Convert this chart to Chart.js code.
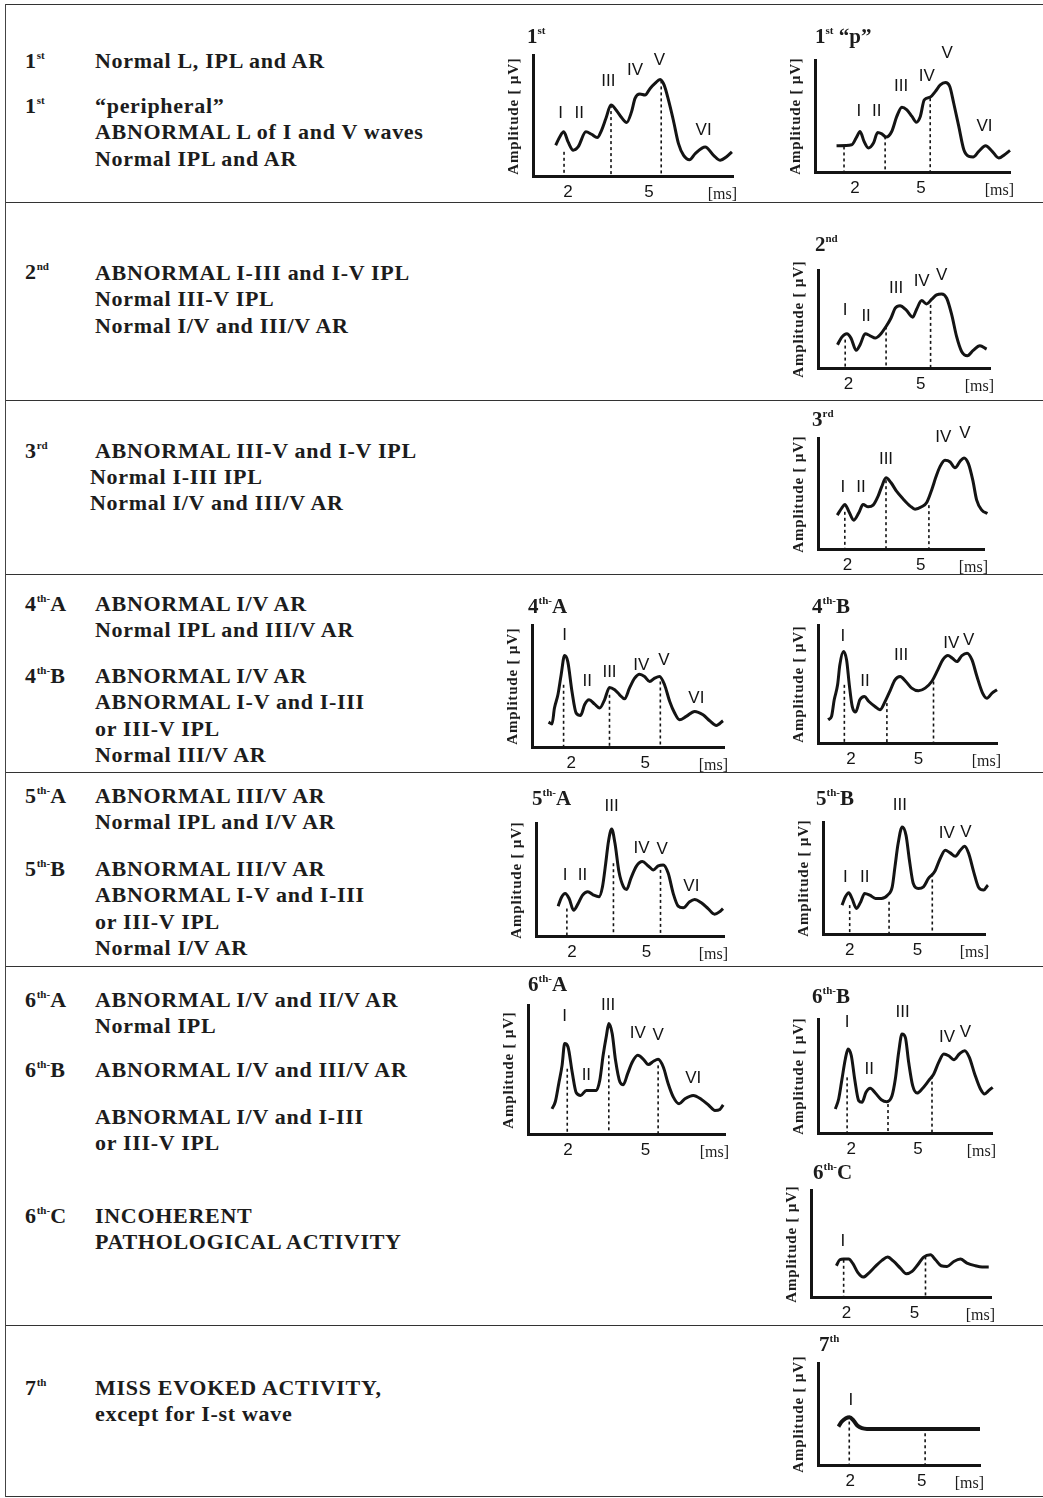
<!DOCTYPE html>
<html>
<head>
<meta charset="utf-8">
<script src="https://cdn.jsdelivr.net/npm/chart.js@4.4.0/dist/chart.umd.min.js"></script>
<style>
body { margin: 0; background: #fff; width: 1043px; height: 1498px; position: relative; overflow: hidden;
       font-family: "Liberation Serif", "Times New Roman", serif; color: #1c1c1c; }
.hl { position: absolute; left: 6px; width: 1037px; height: 0; border-top: 1.5px solid #333; }
.vl { position: absolute; left: 5px; top: 4px; width: 0; height: 1493px; border-left: 1.5px solid #444; }
.t { position: absolute; font-weight: bold; font-size: 22px; line-height: 26.4px; letter-spacing: 0.7px; white-space: nowrap; }
.sup { font-size: 11px; position: relative; top: -9px; letter-spacing: 0; }
.ct { position: absolute; font-weight: bold; font-size: 21px; line-height: 24px; white-space: nowrap; }
.amp { position: absolute; width: 140px; height: 18px; line-height: 18px; text-align: center; font-weight: bold;
       font-size: 15px; letter-spacing: 0.8px; transform: rotate(-90deg); white-space: nowrap; }
.ms { position: absolute; width: 40px; text-align: right; font-size: 16px; line-height: 18px; }
canvas { position: absolute; }
</style>
</head>
<body>

<!-- table rules -->
<div class="vl"></div>
<div class="hl" style="top:4px"></div>
<div class="hl" style="top:202px"></div>
<div class="hl" style="top:400px"></div>
<div class="hl" style="top:574px"></div>
<div class="hl" style="top:772px"></div>
<div class="hl" style="top:966px"></div>
<div class="hl" style="top:1325px"></div>
<div class="hl" style="top:1496px"></div>

<!-- row 1 -->
<div class="t" style="left:25px;top:48px">1<span class="sup">st</span></div>
<div class="t" style="left:95px;top:48px">Normal L, IPL and AR</div>
<div class="t" style="left:25px;top:93px">1<span class="sup">st</span></div>
<div class="t" style="left:95px;top:93px">“peripheral”<br>ABNORMAL L of I and V waves<br>Normal IPL and AR</div>

<!-- row 2 -->
<div class="t" style="left:25px;top:259px">2<span class="sup">nd</span></div>
<div class="t" style="left:95px;top:260px">ABNORMAL I-III and I-V IPL<br>Normal III-V IPL<br>Normal I/V and III/V AR</div>

<!-- row 3 -->
<div class="t" style="left:25px;top:438px">3<span class="sup">rd</span></div>
<div class="t" style="left:95px;top:438px">ABNORMAL III-V and I-V IPL</div>
<div class="t" style="left:90px;top:464px">Normal I-III IPL<br>Normal I/V and III/V AR</div>

<!-- row 4 -->
<div class="t" style="left:25px;top:591px">4<span class="sup">th-</span>A</div>
<div class="t" style="left:95px;top:591px">ABNORMAL I/V AR<br>Normal IPL and III/V AR</div>
<div class="t" style="left:25px;top:663px">4<span class="sup">th-</span>B</div>
<div class="t" style="left:95px;top:663px">ABNORMAL I/V AR<br>ABNORMAL I-V and I-III<br>or III-V IPL<br>Normal III/V AR</div>

<!-- row 5 -->
<div class="t" style="left:25px;top:783px">5<span class="sup">th-</span>A</div>
<div class="t" style="left:95px;top:783px">ABNORMAL III/V AR<br>Normal IPL and I/V AR</div>
<div class="t" style="left:25px;top:856px">5<span class="sup">th-</span>B</div>
<div class="t" style="left:95px;top:856px">ABNORMAL III/V AR<br>ABNORMAL I-V and I-III<br>or III-V IPL<br>Normal I/V AR</div>

<!-- row 6 -->
<div class="t" style="left:25px;top:987px">6<span class="sup">th-</span>A</div>
<div class="t" style="left:95px;top:987px">ABNORMAL I/V and II/V AR<br>Normal IPL</div>
<div class="t" style="left:25px;top:1057px">6<span class="sup">th-</span>B</div>
<div class="t" style="left:95px;top:1057px">ABNORMAL I/V and III/V AR</div>
<div class="t" style="left:95px;top:1104px">ABNORMAL I/V and I-III<br>or III-V IPL</div>
<div class="t" style="left:25px;top:1203px">6<span class="sup">th-</span>C</div>
<div class="t" style="left:95px;top:1203px">INCOHERENT<br>PATHOLOGICAL ACTIVITY</div>

<!-- row 7 -->
<div class="t" style="left:25px;top:1375px">7<span class="sup">th</span></div>
<div class="t" style="left:95px;top:1375px">MISS EVOKED ACTIVITY,<br>except for I-st wave</div>

<script>
// time axis ticks (ms)
const xTicks = [2, 5];

// waveforms: [ms, amplitude (0 = baseline axis, 10 = top of y axis)]
const wave1st = [[1.54,2.54],[1.69,3.23],[1.84,3.65],[2.0,2.82],[2.19,2.13],[2.37,2.4],[2.66,3.65],[2.87,3.45],[3.08,3.18],[3.24,3.78],[3.4,4.75],[3.59,5.86],[3.8,5.39],[3.98,4.83],[4.17,4.42],[4.35,5.3],[4.48,6.41],[4.66,6.77],[4.85,6.69],[5.04,7.24],[5.22,7.65],[5.41,7.98],[5.56,7.51],[5.72,6.27],[5.9,4.61],[6.09,2.68],[6.28,1.71],[6.5,1.35],[6.71,1.85],[7.08,2.4],[7.39,1.71],[7.64,1.3],[7.86,1.57],[8.07,1.99]];
const dash1st = [[1.85,2.0],[3.59,5.86],[5.45,7.9]];
const peaks1st = [['I',1.72,5.17],['II',2.41,5.17],['III',3.49,7.79],['IV',4.48,8.76],['V',5.38,9.59],['VI',7.02,3.78]];

const wave1stP = [[1.16,2.34],[1.85,2.43],[2.05,3.03],[2.23,3.62],[2.41,2.73],[2.61,2.14],[2.84,2.58],[3.03,3.53],[3.22,3.41],[3.42,3.12],[3.67,3.62],[3.9,4.96],[4.13,5.79],[4.36,5.55],[4.59,4.96],[4.79,4.45],[4.97,4.96],[5.15,6.44],[5.42,6.68],[5.65,7.18],[5.88,7.77],[6.11,7.98],[6.31,7.63],[6.49,6.14],[6.72,4.07],[6.95,1.99],[7.18,1.39],[7.37,1.34],[7.63,1.84],[7.94,2.34],[8.24,1.84],[8.54,1.25],[8.8,1.54],[9.05,1.93]];
const dash1stP = [[1.5,2.28],[3.37,3.18],[5.42,6.59]];
const peaks1stP = [['I',2.18,5.4],['II',2.99,5.4],['III',4.1,7.63],['IV',5.27,8.58],['V',6.19,10.6],['VI',7.89,4.12]];

const wave2nd = [[1.54,2.37],[1.72,3.15],[1.93,3.49],[2.1,3.05],[2.32,1.8],[2.48,2.37],[2.69,3.49],[2.9,3.29],[3.11,3.05],[3.31,3.39],[3.56,4.24],[3.76,5.08],[3.94,6.1],[4.14,6.34],[4.39,5.93],[4.67,5.19],[4.83,6.0],[5.04,6.88],[5.24,6.54],[5.46,7.02],[5.66,7.46],[5.87,7.56],[6.08,7.12],[6.29,5.42],[6.49,3.22],[6.7,1.69],[6.94,1.25],[7.18,1.8],[7.46,2.27],[7.74,1.93]];
const dash2nd = [[1.86,2.9],[3.56,4.24],[5.41,6.44]];
const peaks2nd = [['I',1.86,5.93],['II',2.73,5.32],['III',3.98,8.14],['IV',5.04,8.81],['V',5.87,9.49]];

const wave3rd = [[1.58,3.05],[1.77,3.71],[1.89,4.01],[2.05,3.41],[2.26,2.6],[2.47,3.29],[2.64,4.01],[2.85,3.8],[3.05,3.95],[3.26,4.79],[3.4,5.6],[3.58,6.41],[3.78,5.99],[4.01,5.21],[4.29,4.49],[4.56,3.89],[4.77,3.59],[5.04,3.8],[5.25,4.19],[5.45,5.3],[5.63,6.5],[5.79,7.4],[6.0,7.99],[6.21,7.84],[6.41,7.31],[6.62,7.9],[6.78,8.2],[6.96,7.69],[7.14,6.2],[7.3,4.4],[7.51,3.5],[7.74,3.2]];
const dash3rd = [[1.89,3.35],[3.58,6.2],[5.34,3.95]];
const peaks3rd = [['I',1.81,5.6],['II',2.55,5.6],['III',3.58,8.08],['IV',5.93,10.1],['V',6.82,10.4]];

const wave4thA = [[1.08,2.04],[1.22,1.88],[1.32,3.19],[1.46,4.28],[1.59,5.91],[1.73,7.49],[1.86,7.0],[2.03,4.55],[2.2,2.78],[2.38,2.59],[2.54,3.46],[2.72,3.87],[2.95,3.51],[3.15,3.19],[3.35,3.87],[3.55,4.88],[3.76,4.69],[3.96,4.28],[4.16,3.95],[4.36,4.82],[4.57,5.64],[4.77,5.97],[4.97,5.78],[5.18,5.37],[5.38,5.64],[5.58,5.78],[5.78,5.1],[5.99,3.73],[6.19,2.78],[6.39,2.23],[6.66,2.51],[7.0,2.92],[7.34,2.64],[7.61,2.15],[7.88,1.77],[8.15,2.15]];
const dash4thA = [[1.69,5.1],[3.55,4.28],[5.61,5.37]];
const peaks4thA = [['I',1.73,9.18],['II',2.65,5.37],['III',3.55,6.13],['IV',4.84,6.73],['V',5.76,7.14],['VI',7.07,4.0]];

const wave4thB = [[0.99,1.97],[1.14,2.25],[1.26,3.66],[1.41,4.93],[1.51,6.62],[1.67,7.75],[1.81,7.04],[1.93,4.93],[2.06,3.1],[2.21,2.62],[2.4,3.66],[2.6,3.94],[2.8,3.52],[3.07,3.1],[3.29,2.82],[3.52,3.52],[3.74,4.42],[3.96,5.35],[4.19,5.63],[4.44,5.21],[4.7,4.65],[5.0,4.42],[5.3,4.65],[5.59,5.21],[5.86,6.2],[6.08,7.04],[6.31,7.41],[6.51,7.18],[6.71,6.9],[6.93,7.41],[7.16,7.61],[7.38,7.04],[7.6,5.63],[7.85,4.23],[8.04,3.8],[8.27,4.23],[8.49,4.51]];
const dash4thB = [[1.71,4.93],[3.6,3.38],[5.67,5.21]];
const peaks4thB = [['I',1.64,9.01],['II',2.63,5.21],['III',4.23,7.46],['IV',6.46,8.45],['V',7.23,8.73]];

const wave5thA = [[1.45,2.64],[1.58,3.41],[1.73,3.77],[1.89,3.32],[2.07,2.28],[2.24,2.82],[2.43,3.62],[2.64,3.92],[2.87,3.62],[3.09,3.47],[3.23,4.36],[3.36,6.44],[3.47,8.37],[3.6,9.47],[3.73,8.22],[3.89,5.7],[4.07,4.36],[4.2,4.12],[4.37,5.1],[4.6,6.2],[4.83,6.59],[5.07,6.2],[5.27,5.85],[5.47,6.2],[5.67,6.29],[5.87,5.55],[6.07,3.77],[6.27,2.64],[6.47,2.49],[6.73,3.03],[6.93,3.23],[7.2,2.94],[7.47,2.43],[7.73,1.93],[7.93,2.14],[8.07,2.43]];
const dash5thA = [[1.8,2.43],[3.67,6.44],[5.56,5.85]];
const peaks5thA = [['I',1.73,5.4],['II',2.43,5.4],['III',3.6,11.5],['IV',4.8,7.77],['V',5.63,7.69],['VI',6.8,4.36]];

const wave5thB = [[1.66,2.58],[1.81,3.32],[1.96,3.68],[2.1,3.18],[2.3,2.28],[2.49,2.88],[2.66,3.62],[2.89,3.47],[3.14,3.18],[3.4,3.18],[3.67,3.47],[3.88,4.21],[4.0,5.99],[4.14,8.07],[4.32,9.55],[4.49,8.81],[4.64,6.59],[4.81,4.51],[5.03,4.07],[5.26,4.21],[5.48,4.96],[5.75,5.55],[6.0,6.74],[6.22,7.48],[6.44,7.24],[6.67,6.94],[6.89,7.48],[7.08,7.83],[7.26,7.18],[7.48,5.55],[7.7,4.15],[7.92,3.92],[8.11,4.36],[8.29,4.57]];
const dash5thB = [[2.0,2.58],[3.74,2.88],[5.65,5.4]];
const peaks5thB = [['I',1.81,5.1],['II',2.66,5.1],['III',4.22,11.5],['IV',6.29,8.96],['V',7.14,9.11]];

const wave6thA = [[1.38,1.95],[1.51,2.52],[1.64,3.9],[1.77,5.32],[1.87,7.01],[2.0,6.75],[2.16,4.81],[2.32,3.19],[2.49,2.99],[2.71,3.38],[2.91,3.38],[3.1,3.38],[3.23,4.16],[3.36,6.1],[3.49,7.66],[3.58,8.57],[3.71,7.79],[3.84,5.71],[4.01,4.03],[4.14,3.82],[4.31,4.68],[4.49,5.58],[4.7,6.1],[4.92,5.79],[5.11,5.38],[5.31,5.64],[5.49,5.79],[5.69,5.19],[5.88,3.9],[6.08,2.86],[6.3,2.34],[6.53,2.73],[6.85,2.99],[7.17,2.68],[7.46,2.21],[7.69,1.82],[7.88,1.9],[8.01,2.26]];
const dash6thA = [[1.97,5.06],[3.58,6.1],[5.49,5.32]];
const peaks6thA = [['I',1.87,9.09],['II',2.71,4.55],['III',3.55,10.0],['IV',4.7,7.79],['V',5.49,7.66],['VI',6.85,4.34]];

const wave6thB = [[1.28,2.11],[1.43,2.98],[1.58,4.74],[1.73,6.49],[1.85,7.37],[2.0,6.78],[2.15,4.74],[2.33,2.84],[2.48,2.69],[2.66,3.57],[2.85,3.92],[3.08,3.51],[3.35,2.92],[3.6,2.75],[3.83,3.27],[3.98,4.74],[4.13,7.08],[4.28,8.68],[4.43,8.39],[4.58,6.2],[4.76,4.15],[4.96,3.51],[5.18,3.86],[5.48,4.59],[5.71,5.18],[5.93,6.2],[6.16,6.93],[6.38,6.78],[6.61,6.43],[6.86,6.93],[7.1,7.22],[7.31,6.64],[7.55,5.18],[7.81,3.86],[8.0,3.42],[8.18,3.71],[8.36,4.01]];
const dash6thB = [[1.81,4.88],[3.65,2.54],[5.63,5.03]];
const peaks6thB = [['I',1.81,9.71],['II',2.81,5.61],['III',4.31,10.6],['IV',6.31,8.39],['V',7.13,8.83]];

const wave6thC = [[1.56,2.92],[1.71,3.48],[1.88,3.54],[2.1,3.54],[2.29,3.11],[2.5,2.3],[2.74,1.86],[2.99,2.24],[3.28,2.86],[3.57,3.42],[3.82,3.73],[4.09,3.32],[4.38,2.7],[4.65,2.17],[4.9,2.39],[5.15,3.01],[5.41,3.73],[5.71,3.94],[5.93,3.48],[6.18,2.92],[6.44,2.86],[6.74,3.32],[7.03,3.54],[7.32,3.17],[7.69,2.92],[7.99,2.8],[8.28,2.8]];
const dash6thC = [[1.88,3.48],[5.49,3.79]];
const peaks6thC = [['I',1.85,5.19]];

const wave7th = [[1.51,3.77],[1.65,4.26],[1.82,4.59],[1.97,4.69],[2.14,4.36],[2.31,3.84],[2.49,3.61],[2.7,3.54],[7.44,3.54]];
const dash7th = [[1.96,4.26],[5.14,3.11]];
const peaks7th = [['I',2.03,6.39]];

// panel placement: L/T/R/B = axis corners on the page, tx/ty = title spot
const panels = [
    { title: '1<span class="sup">st</span>', tx: 527, ty: 37, L: 533, T: 55, R: 733, B: 176, xmin: 0.70, xmax: 8.11, wave: wave1st, dash: dash1st, peaks: peaks1st },
    { title: '1<span class="sup">st</span> “p”', tx: 815, ty: 37, L: 815, T: 60, R: 1010, B: 172, xmin: 0.18, xmax: 9.05, wave: wave1stP, dash: dash1stP, peaks: peaks1stP },
    { title: '2<span class="sup">nd</span>', tx: 815, ty: 245, L: 818, T: 270, R: 990, B: 368, xmin: 0.73, xmax: 7.88, wave: wave2nd, dash: dash2nd, peaks: peaks2nd },
    { title: '3<span class="sup">rd</span>', tx: 812, ty: 420, L: 818, T: 438, R: 984, B: 549, xmin: 0.79, xmax: 7.60, wave: wave3rd, dash: dash3rd, peaks: peaks3rd },
    { title: '4<span class="sup">th-</span>A', tx: 528, ty: 607, L: 532, T: 625, R: 724, B: 747, xmin: 0.41, xmax: 8.19, wave: wave4thA, dash: dash4thA, peaks: peaks4thA },
    { title: '4<span class="sup">th-</span>B', tx: 812, ty: 607, L: 818, T: 625, R: 997, B: 743, xmin: 0.54, xmax: 8.49, wave: wave4thB, dash: dash4thB, peaks: peaks4thB },
    { title: '5<span class="sup">th-</span>A', tx: 532, ty: 799, L: 536, T: 823, R: 724, B: 936, xmin: 0.56, xmax: 8.11, wave: wave5thA, dash: dash5thA, peaks: peaks5thA },
    { title: '5<span class="sup">th-</span>B', tx: 816, ty: 799, L: 823, T: 822, R: 985, B: 934, xmin: 0.82, xmax: 7.98, wave: wave5thB, dash: dash5thB, peaks: peaks5thB },
    { title: '6<span class="sup">th-</span>A', tx: 528, ty: 985, L: 528, T: 1005, R: 725, B: 1134, xmin: 0.45, xmax: 8.08, wave: wave6thA, dash: dash6thA, peaks: peaks6thA },
    { title: '6<span class="sup">th-</span>B', tx: 812, ty: 997, L: 818, T: 1019, R: 992, B: 1133, xmin: 0.50, xmax: 8.33, wave: wave6thB, dash: dash6thB, peaks: peaks6thB },
    { title: '6<span class="sup">th-</span>C', tx: 813, ty: 1173, L: 811, T: 1190, R: 991, B: 1297, xmin: 0.44, xmax: 8.38, wave: wave6thC, dash: dash6thC, peaks: peaks6thC },
    { title: '7<span class="sup">th</span>', tx: 819, ty: 1345, L: 818, T: 1363, R: 980, B: 1465, xmin: 0.65, xmax: 7.44, wave: wave7th, dash: dash7th, peaks: peaks7th, thick: 4 }
];

const PAD_L = 12, PAD_R = 16, PAD_T = 44, X_H = 26;
const INK = '#141414';

// wave names (I, II, ...) written at data coordinates
const peakLabels = {
    id: 'peakLabels',
    afterDatasetsDraw(chart, args, opts) {
        const { ctx, scales: { x, y } } = chart;
        ctx.save();
        ctx.font = '17px "Liberation Sans", Arial, sans-serif';
        ctx.fillStyle = INK;
        ctx.textAlign = 'center';
        ctx.textBaseline = 'middle';
        for (const [txt, vx, vy] of (opts.items || [])) {
            ctx.fillText(txt, x.getPixelForValue(vx), y.getPixelForValue(vy));
        }
        ctx.restore();
    }
};

function addDiv(cls, html, style) {
    const d = document.createElement('div');
    d.className = cls;
    d.innerHTML = html;
    Object.assign(d.style, style);
    document.body.appendChild(d);
}

function makePanel(p) {
    const w = p.R - p.L + PAD_L + PAD_R;
    const h = p.B - p.T + PAD_T + X_H;
    const cv = document.createElement('canvas');
    cv.width = w;
    cv.height = h;
    cv.style.left = (p.L - PAD_L) + 'px';
    cv.style.top = (p.T - PAD_T) + 'px';
    document.body.appendChild(cv);

    const datasets = [{
        data: p.wave.map(([x, y]) => ({ x, y })),
        borderColor: INK,
        borderWidth: p.thick || 3,
        borderJoinStyle: 'round',
        pointRadius: 0,
        cubicInterpolationMode: 'monotone',
        clip: false
    }];
    for (const [dx, top] of p.dash) {
        datasets.push({
            data: [{ x: dx, y: top }, { x: dx, y: 0 }],
            borderColor: INK,
            borderWidth: 1.6,
            borderDash: [3, 3],
            pointRadius: 0,
            clip: false
        });
    }

    new Chart(cv.getContext('2d'), {
        type: 'line',
        data: { datasets },
        plugins: [peakLabels],
        options: {
            responsive: false,
            animation: false,
            events: [],
            layout: { padding: { left: PAD_L, right: PAD_R, top: PAD_T, bottom: 0 } },
            plugins: {
                legend: { display: false },
                tooltip: { enabled: false },
                peakLabels: { items: p.peaks }
            },
            scales: {
                x: {
                    type: 'linear',
                    min: p.xmin,
                    max: p.xmax,
                    grid: { display: false, drawTicks: false },
                    border: { display: true, color: INK, width: 3 },
                    ticks: { color: INK, padding: 6, font: { family: '"Liberation Sans", Arial, sans-serif', size: 17 } },
                    afterBuildTicks: s => { s.ticks = xTicks.map(v => ({ value: v })); },
                    afterFit: s => { s.height = X_H; }
                },
                y: {
                    min: 0,
                    max: 10,
                    grid: { display: false, drawTicks: false },
                    border: { display: true, color: INK, width: 3 },
                    ticks: { display: false },
                    afterFit: s => { s.width = 0; }
                }
            }
        }
    });

    addDiv('ct', p.title, { left: p.tx + 'px', top: (p.ty - 13) + 'px' });
    addDiv('amp', 'Amplitude [ µV]', { left: (p.L - 20 - 70) + 'px', top: ((p.T + p.B) / 2 - 9) + 'px' });
    addDiv('ms', '[ms]', { left: (p.R + 4 - 40) + 'px', top: (p.B + 9) + 'px' });
}

panels.forEach(makePanel);
</script>
</body>
</html>
